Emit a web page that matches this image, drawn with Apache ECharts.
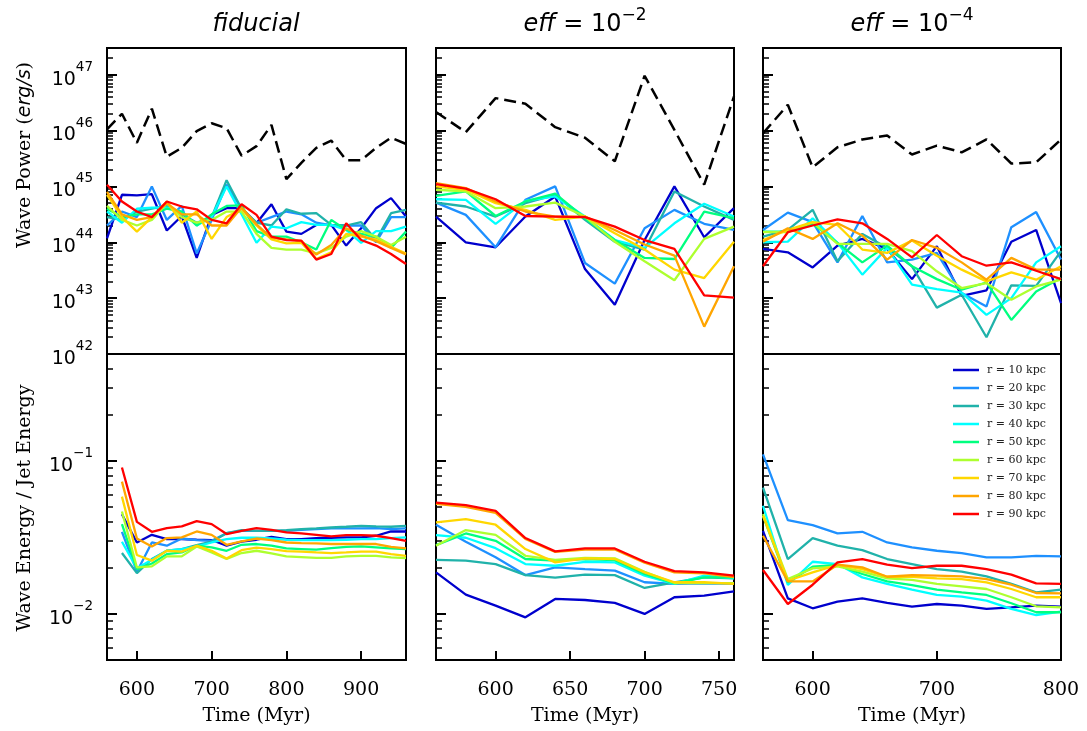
<!DOCTYPE html>
<html>
<head>
<meta charset="utf-8">
<title>Wave power and wave energy</title>
<script src="https://cdn.jsdelivr.net/npm/echarts@6/dist/echarts.min.js"></script>
<style>
  html, body { margin: 0; padding: 0; background: #fff; }
  #main { width: 1087px; height: 731px; }
</style>
</head>
<body>
<div id="main"></div>
<script>
// shells and their colours
var radii = ['r = 10 kpc', 'r = 20 kpc', 'r = 30 kpc', 'r = 40 kpc', 'r = 50 kpc',
  'r = 60 kpc', 'r = 70 kpc', 'r = 80 kpc', 'r = 90 kpc']
var colors = ['#0000cd', '#1e90ff', '#20b2aa', '#00ffff', '#00ff7f',
  '#adff2f', '#ffd700', '#ffa500', '#ff0000']

// time grids (Myr)
var tFidPower = [560, 580, 600, 620, 640, 660, 680, 700, 720, 740, 760, 780, 800, 820, 840, 860, 880, 900, 920, 940, 960]
var tFidRatio = [580, 600, 620, 640, 660, 680, 700, 720, 740, 760, 780, 800, 820, 840, 860, 880, 900, 920, 940, 960]
var tE2 = [560, 580, 600, 620, 640, 660, 680, 700, 720, 740, 760]
var tE4 = [560, 580, 600, 620, 640, 660, 680, 700, 720, 740, 760, 780, 800]

// tick values
var xTicksFid = [600, 700, 800, 900]
var xTicksE2 = [600, 650, 700, 750]
var xTicksE4 = [600, 700, 800]
var powerTicks = [1e42, 1e43, 1e44, 1e45, 1e46, 1e47]
var powerMinor = [2e42, 3e42, 4e42, 5e42, 6e42, 7e42, 8e42, 9e42,
  2e43, 3e43, 4e43, 5e43, 6e43, 7e43, 8e43, 9e43,
  2e44, 3e44, 4e44, 5e44, 6e44, 7e44, 8e44, 9e44,
  2e45, 3e45, 4e45, 5e45, 6e45, 7e45, 8e45, 9e45,
  2e46, 3e46, 4e46, 5e46, 6e46, 7e46, 8e46, 9e46, 2e47]
var ratioTicks = [0.01, 0.1]
var ratioMinor = [0.006, 0.007, 0.008, 0.009, 0.02, 0.03, 0.04, 0.05, 0.06, 0.07, 0.08, 0.09, 0.2, 0.3, 0.4]

// log10 of jet power (erg/s), dashed black line
var fidJetLog = [46.02, 46.30, 45.78, 46.39, 45.53, 45.69, 45.99, 46.13, 46.04, 45.55, 45.72, 46.10, 45.13, 45.42, 45.69, 45.82, 45.47, 45.47, 45.69, 45.87, 45.76]
var e2JetLog = [46.33, 45.97, 46.58, 46.48, 46.06, 45.87, 45.45, 46.98, 46.01, 45.03, 46.61]
var e4JetLog = [45.95, 46.46, 45.34, 45.70, 45.84, 45.91, 45.57, 45.73, 45.61, 45.84, 45.41, 45.43, 45.84]

// log10 of wave power (erg/s), one row per radius
var fidPowerLog = [
  [44.07, 44.85, 44.84, 44.86, 44.21, 44.47, 43.72, 44.49, 44.61, 44.61, 44.34, 44.68, 44.19, 44.15, 44.31, 44.31, 43.94, 44.25, 44.61, 44.79, 44.46],
  [44.30, 44.55, 44.45, 45.00, 44.40, 44.65, 43.80, 44.40, 45.03, 44.60, 44.35, 44.45, 44.55, 44.50, 44.35, 44.30, 44.30, 44.30, 44.00, 44.45, 44.45],
  [44.45, 44.40, 44.55, 44.60, 44.65, 44.50, 44.35, 44.45, 45.11, 44.60, 44.35, 44.30, 44.59, 44.51, 44.52, 44.31, 44.30, 44.36, 44.04, 44.52, 44.58],
  [44.55, 44.35, 44.60, 44.62, 44.62, 44.55, 44.30, 44.45, 45.00, 44.50, 43.99, 44.28, 44.25, 44.36, 44.31, 44.31, 44.22, 43.99, 44.20, 44.20, 44.28],
  [44.60, 44.45, 44.50, 44.50, 44.60, 44.55, 44.30, 44.50, 44.65, 44.66, 44.20, 44.10, 44.10, 44.00, 43.87, 44.40, 44.22, 44.15, 44.10, 43.90, 44.19],
  [44.65, 44.40, 44.30, 44.40, 44.70, 44.45, 44.35, 44.40, 44.55, 44.55, 44.15, 43.90, 43.87, 43.87, 43.80, 43.90, 44.10, 44.20, 44.10, 43.95, 44.10],
  [44.85, 44.45, 44.19, 44.45, 44.73, 44.35, 44.55, 44.06, 44.45, 44.60, 44.30, 44.05, 43.98, 43.99, 43.70, 43.82, 44.15, 44.10, 44.05, 43.92, 43.80],
  [44.90, 44.50, 44.40, 44.45, 44.70, 44.50, 44.50, 44.30, 44.30, 44.62, 44.32, 44.08, 44.05, 44.02, 43.78, 43.95, 44.25, 44.12, 44.02, 43.90, 43.78],
  [45.03, 44.73, 44.55, 44.45, 44.73, 44.64, 44.59, 44.40, 44.34, 44.68, 44.49, 44.10, 44.04, 44.03, 43.69, 43.79, 44.34, 44.04, 43.94, 43.79, 43.61]
]
var e2PowerLog = [
  [44.46, 44.00, 43.91, 44.46, 44.82, 43.52, 42.88, 44.04, 45.00, 44.09, 44.61],
  [44.71, 44.49, 43.91, 44.76, 45.00, 43.63, 43.26, 44.25, 44.58, 44.33, 44.22],
  [44.71, 44.64, 44.46, 44.70, 44.85, 44.40, 44.01, 43.87, 44.91, 44.64, 44.40],
  [44.77, 44.76, 44.33, 44.74, 44.82, 44.46, 44.04, 43.90, 44.34, 44.69, 44.46],
  [44.83, 44.91, 44.47, 44.73, 44.87, 44.43, 44.04, 43.72, 43.70, 44.55, 44.43],
  [44.94, 44.91, 44.61, 44.64, 44.71, 44.46, 44.01, 43.66, 43.32, 44.06, 44.28],
  [45.00, 44.94, 44.70, 44.58, 44.40, 44.46, 44.16, 43.87, 43.51, 43.36, 44.01],
  [45.06, 44.97, 44.73, 44.55, 44.46, 44.46, 44.22, 43.96, 43.76, 42.49, 43.57],
  [45.04, 44.96, 44.77, 44.47, 44.46, 44.45, 44.28, 44.04, 43.88, 43.05, 43.01]
]
var e4PowerLog = [
  [43.88, 43.82, 43.55, 43.94, 44.06, 43.88, 43.34, 43.93, 43.04, 43.14, 44.01, 44.22, 42.91],
  [44.22, 44.53, 44.36, 43.64, 44.47, 43.64, 43.69, 43.81, 43.09, 42.85, 44.27, 44.54, 43.69],
  [44.10, 44.22, 44.58, 43.66, 44.15, 43.90, 43.57, 42.83, 43.06, 42.30, 43.23, 43.22, 43.84],
  [44.00, 44.01, 44.43, 43.99, 43.42, 43.90, 43.24, 43.16, 43.10, 42.70, 43.00, 43.64, 43.93],
  [44.19, 44.19, 44.33, 43.99, 43.64, 43.94, 43.57, 43.34, 43.15, 43.28, 42.61, 43.12, 43.36],
  [44.18, 44.18, 44.36, 43.97, 43.97, 43.97, 43.84, 43.48, 43.18, 43.27, 42.97, 43.21, 43.33],
  [44.04, 44.22, 44.36, 44.31, 43.87, 43.81, 44.03, 43.76, 43.51, 43.30, 43.46, 43.33, 43.57],
  [44.01, 44.25, 44.06, 44.34, 44.12, 43.69, 44.04, 43.90, 43.64, 43.33, 43.72, 43.51, 43.51],
  [43.57, 44.18, 44.30, 44.41, 44.34, 44.06, 43.73, 44.13, 43.75, 43.58, 43.64, 43.49, 43.34]
]

// log10 of wave energy / jet energy, one row per radius
var fidRatioLog = [
  [-1.348, -1.533, -1.483, -1.511, -1.511, -1.515, -1.517, -1.554, -1.528, -1.515, -1.496, -1.511, -1.511, -1.504, -1.502, -1.500, -1.500, -1.489, -1.461, -1.461],
  [-1.463, -1.724, -1.533, -1.554, -1.507, -1.517, -1.522, -1.472, -1.457, -1.457, -1.457, -1.457, -1.450, -1.446, -1.441, -1.441, -1.441, -1.439, -1.446, -1.441],
  [-1.602, -1.733, -1.641, -1.587, -1.576, -1.550, -1.528, -1.472, -1.452, -1.457, -1.457, -1.452, -1.446, -1.441, -1.435, -1.430, -1.424, -1.428, -1.430, -1.424],
  [-1.528, -1.702, -1.646, -1.587, -1.576, -1.559, -1.533, -1.511, -1.502, -1.502, -1.507, -1.515, -1.517, -1.517, -1.517, -1.515, -1.511, -1.511, -1.504, -1.500],
  [-1.413, -1.707, -1.670, -1.609, -1.598, -1.554, -1.565, -1.587, -1.548, -1.543, -1.554, -1.572, -1.576, -1.580, -1.570, -1.561, -1.559, -1.565, -1.572, -1.576],
  [-1.330, -1.696, -1.689, -1.624, -1.624, -1.559, -1.598, -1.641, -1.602, -1.587, -1.604, -1.624, -1.628, -1.633, -1.633, -1.624, -1.620, -1.620, -1.630, -1.635],
  [-1.233, -1.615, -1.652, -1.587, -1.593, -1.554, -1.587, -1.637, -1.583, -1.567, -1.576, -1.589, -1.593, -1.598, -1.602, -1.598, -1.593, -1.593, -1.609, -1.620],
  [-1.135, -1.507, -1.559, -1.504, -1.500, -1.461, -1.483, -1.548, -1.526, -1.507, -1.517, -1.533, -1.537, -1.539, -1.543, -1.543, -1.543, -1.543, -1.561, -1.572],
  [-1.043, -1.398, -1.463, -1.439, -1.428, -1.393, -1.413, -1.478, -1.457, -1.439, -1.450, -1.467, -1.474, -1.483, -1.493, -1.485, -1.485, -1.489, -1.504, -1.522]
]
var e2RatioLog = [
  [-1.728, -1.874, -1.946, -2.022, -1.902, -1.909, -1.928, -2.000, -1.891, -1.880, -1.852],
  [-1.417, -1.528, -1.630, -1.746, -1.696, -1.707, -1.717, -1.793, -1.804, -1.800, -1.804],
  [-1.646, -1.652, -1.674, -1.746, -1.763, -1.743, -1.746, -1.830, -1.793, -1.761, -1.767],
  [-1.485, -1.502, -1.570, -1.674, -1.685, -1.659, -1.663, -1.750, -1.804, -1.750, -1.767],
  [-1.550, -1.474, -1.522, -1.641, -1.652, -1.641, -1.648, -1.739, -1.800, -1.761, -1.761],
  [-1.554, -1.452, -1.483, -1.620, -1.646, -1.633, -1.637, -1.724, -1.798, -1.798, -1.798],
  [-1.402, -1.380, -1.417, -1.576, -1.663, -1.637, -1.641, -1.728, -1.793, -1.793, -1.804],
  [-1.280, -1.300, -1.340, -1.510, -1.595, -1.580, -1.578, -1.665, -1.728, -1.735, -1.760],
  [-1.272, -1.289, -1.326, -1.504, -1.591, -1.572, -1.572, -1.659, -1.720, -1.728, -1.750]
]
var e4RatioLog = [
  [-1.457, -1.898, -1.963, -1.920, -1.898, -1.928, -1.952, -1.935, -1.946, -1.967, -1.957, -1.946, -1.952],
  [-0.957, -1.387, -1.420, -1.474, -1.463, -1.533, -1.565, -1.587, -1.602, -1.630, -1.630, -1.620, -1.624],
  [-1.174, -1.641, -1.504, -1.554, -1.583, -1.641, -1.674, -1.707, -1.724, -1.754, -1.804, -1.859, -1.841],
  [-1.293, -1.811, -1.659, -1.674, -1.761, -1.804, -1.841, -1.876, -1.887, -1.913, -1.967, -2.007, -1.985],
  [-1.359, -1.793, -1.691, -1.680, -1.739, -1.787, -1.811, -1.841, -1.859, -1.876, -1.930, -1.989, -1.989],
  [-1.348, -1.772, -1.702, -1.689, -1.724, -1.767, -1.778, -1.804, -1.820, -1.837, -1.891, -1.950, -1.957],
  [-1.359, -1.783, -1.728, -1.680, -1.707, -1.757, -1.757, -1.767, -1.772, -1.793, -1.837, -1.891, -1.891],
  [-1.489, -1.787, -1.787, -1.678, -1.696, -1.757, -1.746, -1.750, -1.754, -1.772, -1.809, -1.863, -1.865],
  [-1.713, -1.935, -1.809, -1.663, -1.641, -1.678, -1.700, -1.685, -1.685, -1.707, -1.743, -1.800, -1.804]
]

var SERIF = '"DejaVu Serif", serif'
var SANS = '"DejaVu Sans", sans-serif'

var panels = [
  { tp: tFidPower, tr: tFidRatio, jet: fidJetLog, pow: fidPowerLog, ratio: fidRatioLog, xmin: 560, xmax: 960, ticks: xTicksFid },
  { tp: tE2, tr: tE2, jet: e2JetLog, pow: e2PowerLog, ratio: e2RatioLog, xmin: 560, xmax: 760, ticks: xTicksE2 },
  { tp: tE4, tr: tE4, jet: e4JetLog, pow: e4PowerLog, ratio: e4RatioLog, xmin: 560, xmax: 800, ticks: xTicksE4 }
]
var gridLeft = [107, 436, 763]
var gridWidth = [299, 298, 298]

function pairs (t, logs) {
  return t.map(function (x, i) { return [x, Math.pow(10, logs[i])] })
}
function powLabel (v) {
  var e = Math.round(Math.log(v) / Math.LN10)
  return '{b|10}{s|' + (e < 0 ? '\u2212' + (-e) : e) + '}'
}
var tickRich = {
  b: { fontFamily: SANS, fontSize: 19, lineHeight: 29, verticalAlign: 'bottom', color: '#000' },
  s: { fontFamily: SANS, fontSize: 13.5, verticalAlign: 'top', color: '#000' }
}

function buildPanels () {
  var grids = []
  var xAxes = []
  var majorY = []
  var minorY = []
  var series = []
  for (var row = 0; row < 2; row++) {
    for (var c = 0; c < 3; c++) {
      var p = panels[c]
      var g = row * 3 + c
      var isTop = row === 0
      grids.push({
        left: gridLeft[c], width: gridWidth[c], top: isTop ? 48 : 354, height: 306,
        containLabel: false, outerBoundsMode: 'none',
        show: true, borderColor: '#000', borderWidth: 2, backgroundColor: 'transparent'
      })
      xAxes.push({
        type: 'value', gridIndex: g, min: p.xmin, max: p.xmax,
        axisLine: { show: false }, splitLine: { show: false },
        axisTick: { show: !isTop, inside: true, length: 9, customValues: p.ticks, lineStyle: { color: '#000', width: 2 } },
        axisLabel: { show: !isTop, customValues: p.ticks, margin: 21, color: '#000', fontFamily: SERIF, fontSize: 19 },
        name: isTop ? '' : 'Time (Myr)', nameLocation: 'middle', nameGap: 47,
        nameTextStyle: { fontFamily: SERIF, fontSize: 19, color: '#000' }
      })
      var ymin = isTop ? 1e42 : 0.005
      var ymax = isTop ? 3e47 : 0.5
      majorY.push({
        type: 'log', logBase: 10, gridIndex: g, position: 'left', min: ymin, max: ymax,
        axisLine: { show: false }, splitLine: { show: false },
        axisTick: { inside: true, length: 10, customValues: isTop ? powerTicks : ratioTicks, lineStyle: { color: '#000', width: 2 } },
        axisLabel: { show: c === 0, customValues: isTop ? powerTicks : ratioTicks, margin: 14, formatter: powLabel, rich: tickRich }
      })
      minorY.push({
        type: 'log', logBase: 10, gridIndex: g, position: 'left', min: ymin, max: ymax,
        axisLine: { show: false }, splitLine: { show: false }, axisLabel: { show: false },
        axisTick: { inside: true, length: 6, customValues: isTop ? powerMinor : ratioMinor, lineStyle: { color: '#000', width: 1.5 } }
      })
      if (isTop) {
        series.push({
          type: 'line', name: 'jet', xAxisIndex: g, yAxisIndex: g, data: pairs(p.tp, p.jet),
          symbol: 'none', lineStyle: { color: '#000', width: 2.5, type: [12, 6] }, itemStyle: { color: '#000' }, z: 3
        })
      }
      for (var k = 0; k < radii.length; k++) {
        series.push({
          type: 'line', name: radii[k], xAxisIndex: g, yAxisIndex: g,
          data: pairs(isTop ? p.tp : p.tr, isTop ? p.pow[k] : p.ratio[k]),
          symbol: 'none', lineStyle: { color: colors[k], width: 2.3 }, itemStyle: { color: colors[k] }, z: 3
        })
      }
    }
  }
  return { grid: grids, xAxis: xAxes, yAxis: majorY.concat(minorY), series: series }
}

var titleRich = {
  i: { fontFamily: SANS, fontStyle: 'italic', fontSize: 24, lineHeight: 30, verticalAlign: 'bottom', color: '#000' },
  n: { fontFamily: SANS, fontSize: 24, lineHeight: 30, verticalAlign: 'bottom', color: '#000' },
  s: { fontFamily: SANS, fontSize: 17, verticalAlign: 'top', color: '#000' }
}
function textEl (x, y, text, rich, rot) {
  return {
    type: 'text', x: x, y: y, rotation: rot || 0, silent: true,
    style: { text: text, rich: rich, align: 'center', verticalAlign: 'middle', textAlign: 'center', textVerticalAlign: 'middle' }
  }
}
var labelRich = {
  a: { fontFamily: SERIF, fontSize: 19, color: '#000' },
  b: { fontFamily: SANS, fontStyle: 'italic', fontSize: 19, color: '#000' }
}

var built = buildPanels()
var option = {
  backgroundColor: '#fff',
  animation: false,
  grid: built.grid,
  xAxis: built.xAxis,
  yAxis: built.yAxis,
  legend: {
    data: radii, orient: 'vertical', left: 948, top: 358, padding: 5,
    icon: 'rect', itemWidth: 26, itemHeight: 2.5, itemGap: 4, selectedMode: false,
    textStyle: { fontFamily: SERIF, fontSize: 11, lineHeight: 14, color: '#222', padding: [0, 0, 0, 3] }
  },
  graphic: [
    textEl(256, 22, '{i|fiducial}', titleRich),
    textEl(585, 22, '{i|eff}{n| = 10}{s|\u22122}', titleRich),
    textEl(912, 22, '{i|eff}{n| = 10}{s|\u22124}', titleRich),
    textEl(25, 155, '{a|Wave Power (}{b|erg/s}{a|)}', labelRich, Math.PI / 2),
    textEl(25, 508, '{a|Wave Energy / Jet Energy}', labelRich, Math.PI / 2)
  ],
  series: built.series
}

var myChart = echarts.init(document.getElementById('main'))
myChart.setOption(option)
window.onresize = myChart.resize
</script>
</body>
</html>
